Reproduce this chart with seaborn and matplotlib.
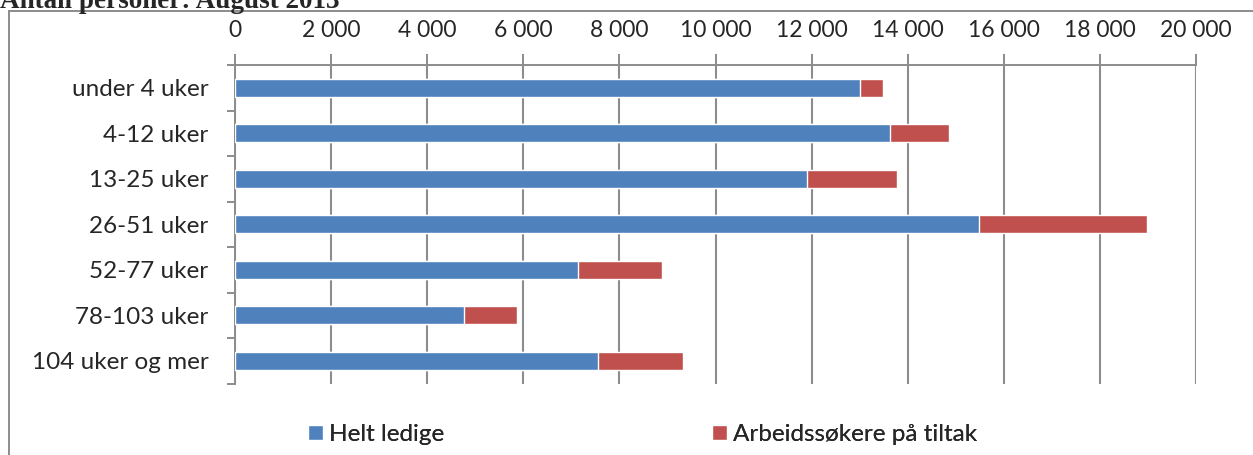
import matplotlib
matplotlib.use("Agg")
import matplotlib.pyplot as plt
from matplotlib.patches import Patch, Rectangle
from matplotlib.ticker import FixedLocator, FuncFormatter
import seaborn as sns

# Antall personer etter ledighetsvarighet, august 2013
kategorier = ["under 4 uker", "4-12 uker", "13-25 uker", "26-51 uker",
              "52-77 uker", "78-103 uker", "104 uker og mer"]
helt_ledige = [13010, 13625, 11910, 15490, 7145, 4772, 7561]
paa_tiltak = [476, 1235, 1860, 3490, 1748, 1097, 1763]
x_ticks = list(range(0, 20001, 2000))

blue = "#4F81BD"
red = "#C0504D"
grid_grey = "#8C8C8C"

sns.set_style("white")
plt.rcParams["font.family"] = ["Lato", "DejaVu Sans"]

W, H = 1253, 455
fig = plt.figure(figsize=(W / 100, H / 100), dpi=100)

# outer frame (cut off at right and bottom)
fig.patches.append(Rectangle((8.5 / W, -0.1), 1.2, 1 - 11 / H + 0.1,
                             transform=fig.transFigure, fill=False,
                             edgecolor="#8C8C8C", linewidth=1.4))

fig.text(0, 1 - 8 / H, "Antall personer: August 2013",
         family=["Liberation Serif", "DejaVu Serif"], weight="bold",
         fontsize=19.5, va="baseline", ha="left")

ax = fig.add_axes([235 / W, 1 - 383.5 / H, (1196 - 235) / W, (383.5 - 65) / H])

totalt = [a + b for a, b in zip(helt_ledige, paa_tiltak)]
sns.barplot(x=totalt, y=kategorier, color=red, saturation=1, width=0.4,
            orient="h", ax=ax, zorder=3)
sns.barplot(x=helt_ledige, y=kategorier, color=blue, saturation=1, width=0.4,
            orient="h", ax=ax, zorder=3)

ax.set_xlim(0, 20000)
ax.set_ylim(6.5, -0.5)
ax.set_xlabel("")
ax.set_ylabel("")

ax.xaxis.tick_top()
ax.xaxis.set_major_locator(FixedLocator(x_ticks))
ax.xaxis.set_major_formatter(FuncFormatter(lambda v, p: f"{int(v):,}".replace(",", " ")))
ax.tick_params(axis="x", which="major", length=8, width=1.4, color=grid_grey,
               pad=9, labelsize=16.5, top=True, bottom=False)
ax.grid(axis="x", color=grid_grey, linewidth=1.5, zorder=0)
ax.set_axisbelow(True)

ax.yaxis.set_minor_locator(FixedLocator([i - 0.5 for i in range(len(kategorier) + 1)]))
ax.tick_params(axis="y", which="major", length=0, pad=19, labelsize=17.5)
ax.tick_params(axis="y", which="minor", length=6, width=1.4, color=grid_grey, left=True)

for s in ["right", "bottom"]:
    ax.spines[s].set_visible(False)
for s in ["top", "left"]:
    ax.spines[s].set_color(grid_grey)
    ax.spines[s].set_linewidth(1.4)

# legend at the bottom
for x0, label, col in [(308, "Helt ledige", blue), (712, "Arbeidssøkere på tiltak", red)]:
    leg = fig.legend(handles=[Patch(facecolor=col, label=label)], loc="center left",
                     bbox_to_anchor=(x0 / W, 1 - 434.5 / H), frameon=False,
                     fontsize=17.5, handlelength=0.6, handleheight=0.6,
                     handletextpad=0.25, borderpad=0, borderaxespad=0)
    fig.add_artist(leg)

fig.savefig("out.png", dpi=100)
